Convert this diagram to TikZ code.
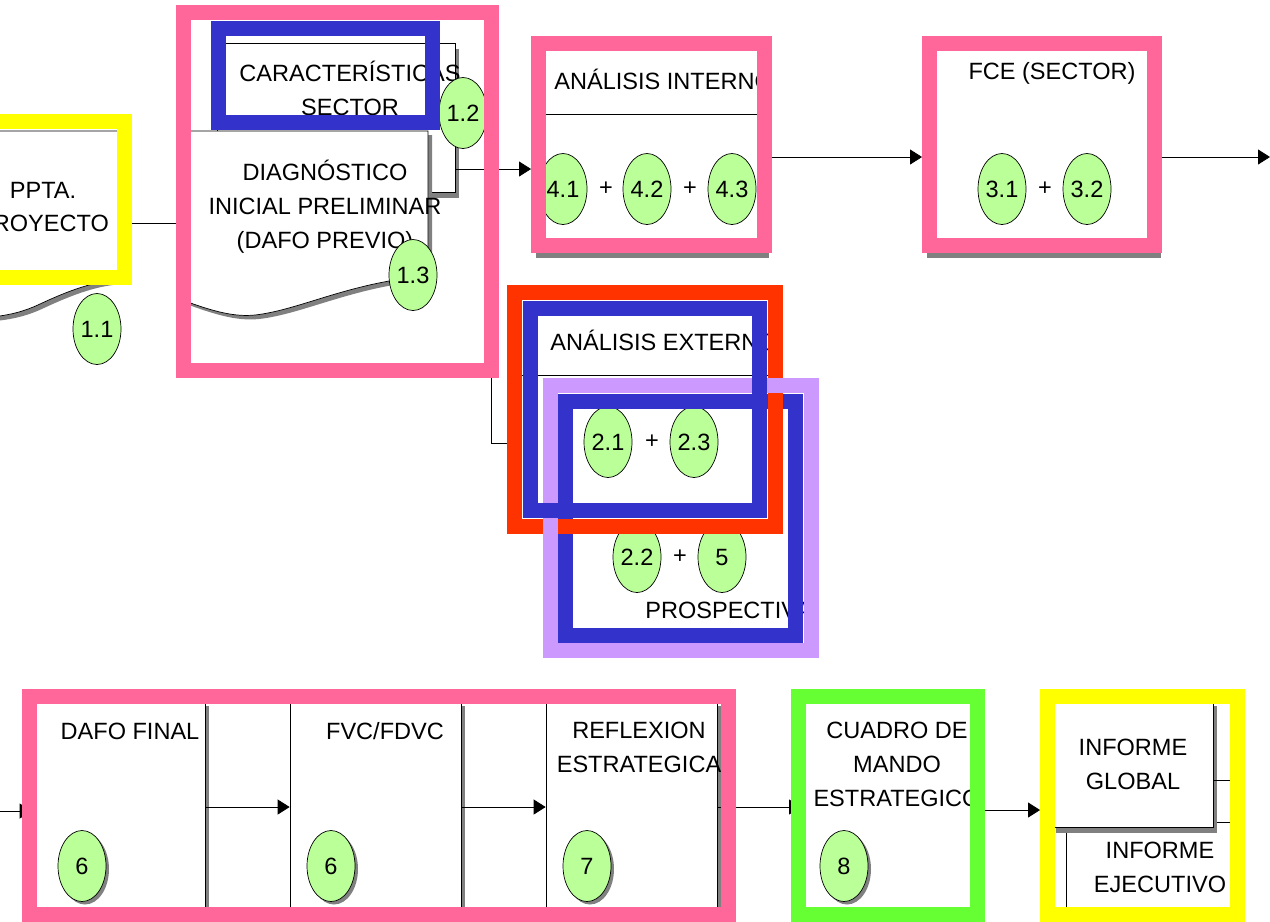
\documentclass[tikz,border=0pt]{standalone}
\usepackage{fontspec}
\setmainfont{Liberation Sans}
\usetikzlibrary{positioning,shapes.geometric,shadows,arrows.meta}

\definecolor{pinkf}{RGB}{255,102,153}
\definecolor{yellowf}{RGB}{255,255,0}
\definecolor{bluef}{RGB}{51,51,204}
\definecolor{redf}{RGB}{255,51,0}
\definecolor{purplef}{RGB}{204,153,255}
\definecolor{greenf}{RGB}{102,255,51}
\definecolor{ovalg}{RGB}{187,255,153}
\definecolor{shadeg}{RGB}{128,128,128}

\newdimen\pxu
\pxu=0.02cm
\newcommand{\lblfont}{\fontsize{13.4}{19.3}\selectfont}

\begin{document}
\begin{tikzpicture}[
    x=0.02cm, y=-0.02cm,
    frame/.style={draw, line width=8.5pt, inner sep=0pt},
    box/.style={draw, fill=white, inner sep=0pt},
    boxsh/.style={box, drop shadow={shadow xshift=2.5pt, shadow yshift=-3.2pt, fill=shadeg, opacity=1}},
    plate/.style={fill=white, inner sep=0pt},
    docsh/.style={draw, fill=white, preaction={fill=shadeg, transform canvas={shift={(4,4)}}}},
    oval/.style={ellipse, draw, fill=ovalg, minimum width=48\pxu, minimum height=71\pxu, inner sep=0pt, font=\lblfont},
    ovalsh/.style={oval, drop shadow={shadow xshift=1.7pt, shadow yshift=-1.7pt, fill=shadeg, opacity=1}},
    lbl/.style={align=center, font=\lblfont, inner sep=0pt},
    arr/.style={-{Triangle[length=6.8pt, width=8.5pt]}}
]

% page size
\useasboundingbox (0,0) rectangle (1270,921);
\clip (0,0) rectangle (1270,921);

% Analisis interno
\node[boxsh, minimum width=233\pxu, minimum height=214\pxu] (iint) at (648.5,145) {};
\draw ([yshift=-77\pxu]iint.north west) -- ([yshift=-77\pxu]iint.north east);
\node[lbl, anchor=west] (tint) at (554,79) {ANÁLISIS INTERNO};
\node[oval] (o41) at (563,189) {4.1};
\node[oval] (o42) at (647,189) {4.2};
\node[oval] (o43) at (732,189) {4.3};
\node[lbl] (p41) at (606,189) {+};
\node[lbl] (p42) at (690,189) {+};
\node[frame, draw=pinkf, minimum width=226\pxu, minimum height=202\pxu] (fp2) at (651.5,144.5) {};

% FCE
\node[boxsh, minimum width=234\pxu, minimum height=214\pxu] (fce) at (1040,145) {};
\node[lbl] (tfce) at (1052,73) {FCE (SECTOR)};
\node[oval] (o31) at (1002,189) {3.1};
\node[oval] (o32) at (1087,189) {3.2};
\node[lbl] (p31) at (1045,189) {+};
\node[frame, draw=pinkf, minimum width=225\pxu, minimum height=202\pxu] (ffce) at (1042,144.5) {};

\coordinate (k3) at (850,157);
\coordinate (out1) at (1270,157);
\draw[arr] (fp2.east |- k3) -- (ffce.west |- k3);
\draw[arr] (ffce.east |- out1) -- (out1);

% Ppta. proyecto
\path[docsh] (-80,131) -- (120,131) -- (120,280) .. controls (95,281) and (70,290) .. (40,304)
    .. controls (25,311) and (10,316) .. (-20,318) -- (-80,316) -- cycle;
\node[lbl] (ppta) at (43,207) {PPTA.\\PROYECTO};
\node[frame, draw=yellowf, minimum width=217\pxu, minimum height=156\pxu] (fy1) at (16,199.5) {};
\node[oval] (o11) at (97,329) {1.1};

% Caracteristicas sector + diagnostico
\node[boxsh, minimum width=238\pxu, minimum height=149\pxu] (sect) at (336,117.5) {};
\node[lbl] (car) at (350,88) {CARACTERÍSTICAS\\SECTOR};
\path[docsh] (185,131) -- (428,131) -- (428,276) .. controls (350,282) and (300,310) .. (255,315)
    .. controls (235,317) and (215,312) .. (185,301) -- cycle;
\node[lbl] (diag) at (325,207) {DIAGNÓSTICO\\INICIAL PRELIMINAR\\(DAFO PREVIO)};
\node[oval] (o12) at (463,113) {1.2};
\node[oval] (o13) at (413,275) {1.3};

\coordinate (k2) at (500,169);
\draw[arr] (sect.east |- k2) -- (fp2.west |- k2);

\node[frame, draw=bluef, minimum width=214\pxu, minimum height=94\pxu] (fb1) at (325.5,75.5) {};
\node[frame, draw=pinkf, minimum width=308\pxu, minimum height=358\pxu] (fp1) at (337.5,191.5) {};

\coordinate (k1) at (150,223);
\draw (fy1.east |- k1) -- (fp1.west |- k1);

% Analisis externo + prospectiva
\node[plate, minimum width=248\pxu, minimum height=205\pxu] (iext) at (646,402.5) {};
\draw ([yshift=-76\pxu]iext.north west) -- ([yshift=-76\pxu]iext.north east);
\node[lbl, anchor=west] (text) at (550,340) {ANÁLISIS EXTERNO};
\node[oval] (o21) at (608,442) {2.1};
\node[oval] (o23) at (694,442) {2.3};
\node[lbl] (p21) at (652,442) {+};
\node[oval] (o22) at (637,557) {2.2};
\node[oval] (o5) at (722,557) {5};
\node[lbl] (p22) at (680,557) {+};
\node[lbl, anchor=west] (tpro) at (645,610) {PROSPECTIVA};

\node[frame, draw=bluef, minimum width=230\pxu, minimum height=234\pxu] (fb3) at (680.5,518.5) {};
\node[frame, draw=redf, minimum width=261\pxu, minimum height=234\pxu] (fred) at (645,409.5) {};
\node[frame, draw=purplef, minimum width=261\pxu, minimum height=265\pxu] (fpur) at (681,518) {};
\node[frame, draw=bluef, minimum width=229\pxu, minimum height=202\pxu] (fb2) at (645,409.5) {};

\coordinate (k4) at (491,443);
\draw (fp1.south -| k4) |- (fred.west |- k4);

% Dafo final, fvc, reflexion
\node[boxsh, minimum width=173\pxu, minimum height=212\pxu] (box1) at (118.5,806) {};
\node[boxsh, minimum width=171\pxu, minimum height=212\pxu] (box2) at (375.5,806) {};
\node[boxsh, minimum width=171\pxu, minimum height=212\pxu] (box3) at (631.5,806) {};
\node[lbl] (tdafo) at (130,731) {DAFO FINAL};
\node[lbl] (tfvc) at (385,731) {FVC/FDVC};
\node[lbl] (tref) at (639,747.5) {REFLEXION\\ESTRATEGICA};
\node[ovalsh] (o6a) at (82,866) {6};
\node[ovalsh] (o6b) at (331,866) {6};
\node[ovalsh] (o7) at (587,866) {7};

\coordinate (in1) at (-5,811);
\coordinate (k5) at (250,807);
\coordinate (gin) at (801,807);
\draw[arr] (in1) -- (box1.west |- in1);
\draw[arr] (box1.east |- k5) -- (box2.west |- k5);
\draw[arr] (box2.east |- k5) -- (box3.west |- k5);
\draw[arr] (box3.east |- gin) -- (gin);

% Cuadro de mando
\node[plate, minimum width=175\pxu, minimum height=210\pxu] (cme) at (887.5,805) {};
\node[lbl] (tcme) at (897,764) {CUADRO DE\\MANDO\\ESTRATEGICO};
\node[ovalsh] (o8) at (844,866) {8};
\node[frame, draw=greenf, minimum width=179\pxu, minimum height=218\pxu] (fgrn) at (888,805.5) {};
\node[frame, draw=pinkf, minimum width=699\pxu, minimum height=218\pxu] (fp3) at (379,805.5) {};

% Informes
\node[box, minimum width=172\pxu, minimum height=93\pxu] (ejec) at (1152,868.5) {};
\node[boxsh, minimum width=161\pxu, minimum height=127\pxu] (glob) at (1132.5,763.5) {};
\node[lbl] (tglob) at (1133,764) {INFORME\\GLOBAL};
\node[lbl] (tejec) at (1160,867.5) {INFORME\\EJECUTIVO};
\coordinate (k7) at (1236,780);
\draw (glob.east |- k7) -- (k7);
\node[frame, draw=yellowf, minimum width=190\pxu, minimum height=218\pxu] (fy2) at (1142.5,805.5) {};

\coordinate (k6) at (1010,810);
\draw[arr] (fgrn.east |- k6) -- (fy2.west |- k6);

\end{tikzpicture}
\end{document}
